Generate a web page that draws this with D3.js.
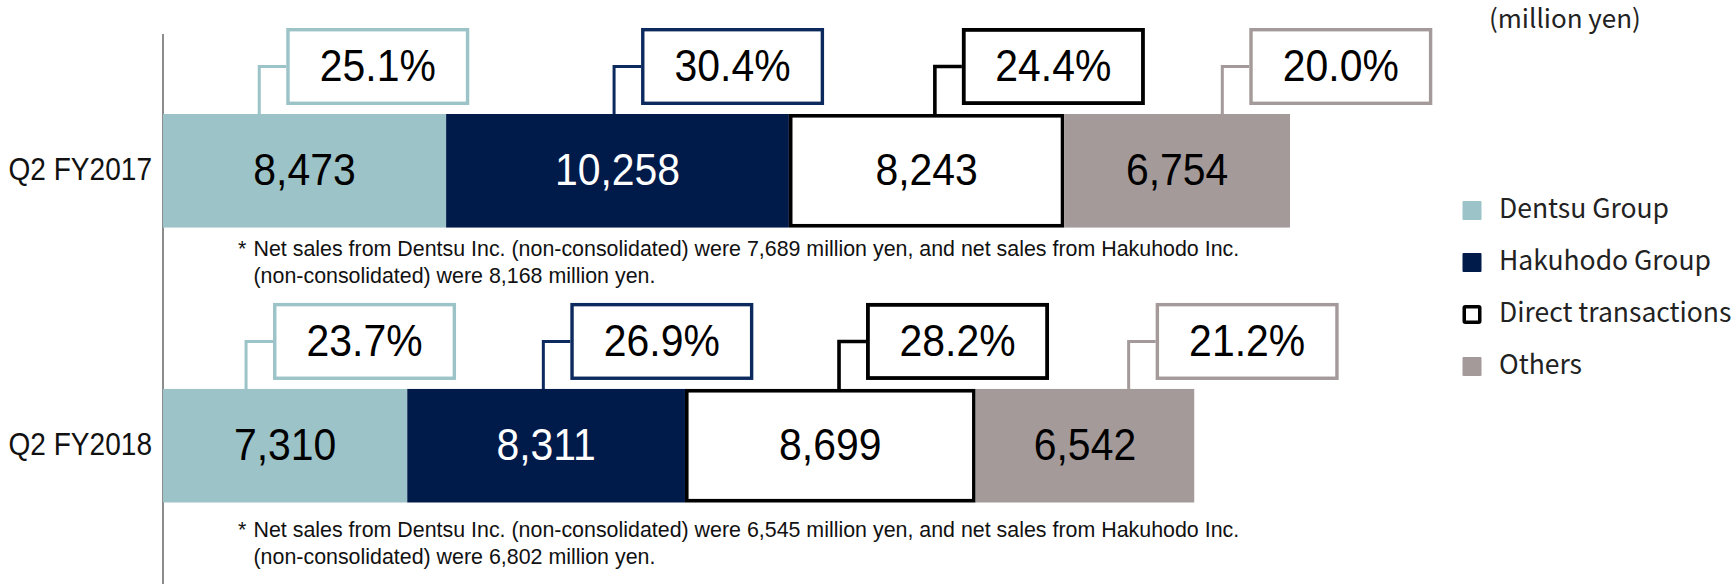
<!DOCTYPE html>
<html>
<head>
<meta charset="utf-8">
<script src="https://cdn.jsdelivr.net/npm/d3@7/dist/d3.min.js"></script>
<style>
  html, body { margin: 0; padding: 0; background: #fff; }
  svg { display: block; }
</style>
</head>
<body>
<svg id="chart" width="1733" height="584"></svg>
<script>
// ---------------- data ----------------
const periods = ["Q2 FY2017", "Q2 FY2018"];
const categories = ["Dentsu Group", "Hakuhodo Group", "Direct transactions", "Others"];
const values2017 = [8473, 10258, 8243, 6754];
const values2018 = [7310, 8311, 8699, 6542];
const shares2017 = [25.1, 30.4, 24.4, 20.0];
const shares2018 = [23.7, 26.9, 28.2, 21.2];
const footnotes2017 = [
  "Net sales from Dentsu Inc. (non-consolidated) were 7,689 million yen, and net sales from Hakuhodo Inc.",
  "(non-consolidated) were 8,168 million yen."
];
const footnotes2018 = [
  "Net sales from Dentsu Inc. (non-consolidated) were 6,545 million yen, and net sales from Hakuhodo Inc.",
  "(non-consolidated) were 6,802 million yen."
];
const unitLabel = "(million yen)";

// ---------------- style ----------------
const fillColors = ["#9cc3c7", "#001a4a", "#ffffff", "#a39a99"];
const edgeColors = ["#9cc3c7", "#0d2a5e", "#000000", "#a39a99"];
const valueColors = ["#000", "#fff", "#000", "#000"];
const anchorFrac = [0.34, 0.49, 0.53, 0.70];   // where the callout leader leaves each segment
const footDy = [28.5, 34.5];
const numFont = "'Liberation Sans', Arial, sans-serif";
const sx = 0.92;

const rows = [
  { period: periods[0], values: values2017, shares: shares2017, notes: footnotes2017 },
  { period: periods[1], values: values2018, shares: shares2018, notes: footnotes2018 }
];
rows.forEach(r => {
  let acc = 0;
  r.segs = r.values.map((v, i) => {
    const s = { i, cat: categories[i], v, share: r.shares[i], x0: acc, x1: acc + v };
    acc += v;
    return s;
  });
  r.total = acc;
});

const svg = d3.select("#chart");

const x = d3.scaleLinear()
  .domain([0, d3.max(rows, r => r.total)])
  .range([163, 1290]);

const y = d3.scaleBand()
  .domain(periods)
  .range([114, 502.5])
  .paddingInner(0.587)
  .paddingOuter(0);

// axis line
svg.append("line")
  .attr("x1", x(0)).attr("x2", x(0))
  .attr("y1", 34).attr("y2", 584)
  .attr("stroke", "#8c8c8c").attr("stroke-width", 2);

// category labels
svg.append("g").selectAll("text").data(rows).join("text")
  .attr("transform", d => `translate(152, ${y(d.period) + y.bandwidth() / 2 + 9.5}) scale(${sx},1)`)
  .attr("text-anchor", "end")
  .attr("font-family", numFont)
  .attr("font-size", 30.5)
  .attr("fill", "#111")
  .text(d => d.period);

const rowG = svg.append("g").selectAll("g").data(rows).join("g");

// segments
rowG.each(function(r) {
  const g = d3.select(this);
  const top = y(r.period), h = y.bandwidth();
  r.segs.forEach(s => {
    const sw = s.i === 2 ? 3.6 : 0;
    g.append("rect")
      .attr("x", x(s.x0) + sw / 2)
      .attr("y", top + sw / 2)
      .attr("width", x(s.x1) - x(s.x0) - sw)
      .attr("height", h - sw)
      .attr("fill", fillColors[s.i])
      .attr("stroke", s.i === 2 ? "#000" : "none")
      .attr("stroke-width", sw);
    g.append("text")
      .attr("transform", `translate(${(x(s.x0) + x(s.x1)) / 2}, ${top + h / 2 + 14.5}) scale(${sx},1)`)
      .attr("text-anchor", "middle")
      .attr("font-family", numFont)
      .attr("font-size", 44.5)
      .attr("fill", valueColors[s.i])
      .text(d3.format(",")(s.v));

    // callout
    const ax = x(s.x0) + anchorFrac[s.i] * (x(s.x1) - x(s.x0));
    const bw = 183, bh = 77, bsw = s.i === 2 ? 3.8 : 3.4;
    const bTop = top - 86;
    const bLeft = ax + 27;
    const cy = bTop + bh / 2;
    g.append("path")
      .attr("d", `M${ax},${top} V${cy} H${bLeft}`)
      .attr("fill", "none")
      .attr("stroke", edgeColors[s.i])
      .attr("stroke-width", s.i === 2 ? 3.6 : 3);
    g.append("rect")
      .attr("x", bLeft + bsw / 2).attr("y", bTop + bsw / 2)
      .attr("width", bw - bsw).attr("height", bh - bsw)
      .attr("fill", "#fff")
      .attr("stroke", edgeColors[s.i])
      .attr("stroke-width", bsw);
    g.append("text")
      .attr("transform", `translate(${bLeft + bw / 2}, ${cy + 14.5}) scale(${sx},1)`)
      .attr("text-anchor", "middle")
      .attr("font-family", numFont)
      .attr("font-size", 44.5)
      .attr("fill", "#000")
      .text(d3.format(".1f")(s.share) + "%");
  });

  // footnote
  const ri = rows.indexOf(r);
  const fy = top + h + footDy[ri];
  g.append("text")
    .attr("x", 238).attr("y", fy)
    .attr("font-family", "'Liberation Sans', Arial, sans-serif")
    .attr("font-size", 21.4).attr("fill", "#111")
    .text("*");
  r.notes.forEach((t, k) => {
    g.append("text")
      .attr("x", 253.5).attr("y", fy + k * 26.5)
      .attr("font-family", "'Liberation Sans', Arial, sans-serif")
      .attr("font-size", 21.4).attr("fill", "#111")
      .text(t);
  });
});

// unit label
svg.append("text")
  .attr("x", 1489).attr("y", 28)
  .attr("font-family", "'Noto Sans CJK JP', 'Noto Sans', sans-serif")
  .attr("font-size", 26).attr("fill", "#222")
  .text(unitLabel);

// legend
const leg = svg.append("g").selectAll("g").data(categories).join("g")
  .attr("transform", (d, i) => `translate(1462.5, ${201 + i * 52})`);
leg.append("rect")
  .attr("x", (d, i) => i === 2 ? 1.75 : 0)
  .attr("y", (d, i) => i === 2 ? 1.75 : 0)
  .attr("width", (d, i) => i === 2 ? 15.5 : 19)
  .attr("height", (d, i) => i === 2 ? 15.5 : 19)
  .attr("rx", 1)
  .attr("fill", (d, i) => fillColors[i])
  .attr("stroke", (d, i) => i === 2 ? "#000" : "none")
  .attr("stroke-width", 3.5);
leg.append("text")
  .attr("x", 36.5).attr("y", 16.5)
  .attr("font-family", "'Noto Sans CJK JP', 'Noto Sans', sans-serif")
  .attr("font-size", 26.5).attr("fill", "#222")
  .text(d => d);
</script>
</body>
</html>
